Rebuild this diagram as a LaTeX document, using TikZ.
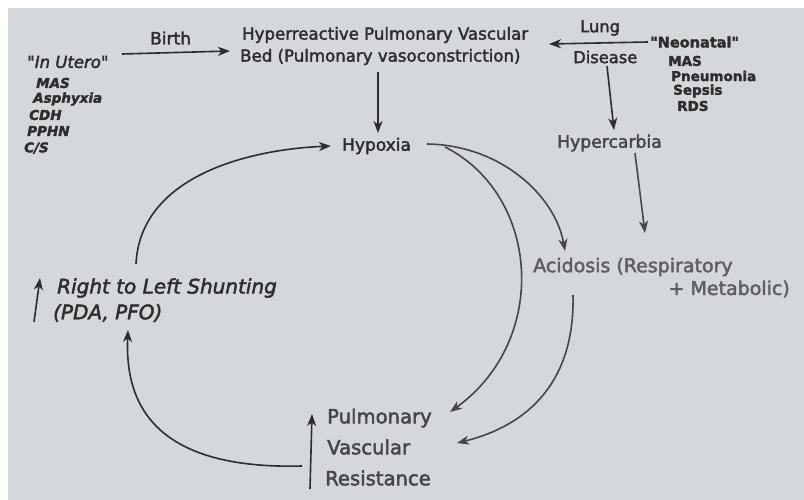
\documentclass[tikz,border=0pt]{standalone}
\usepackage{fontspec}
\setmainfont{DejaVu Sans}[Ligatures=TeXOff, FakeBold=2.2]
\usetikzlibrary{arrows.meta}
\definecolor{bg}{RGB}{212,216,218}
\definecolor{ink}{RGB}{45,45,48}
\definecolor{inkm}{RGB}{70,70,73}
\definecolor{inkl}{RGB}{95,95,98}
\begin{document}
\begin{tikzpicture}[x=1pt,y=-1pt,
  txt/.style={inner sep=0pt, anchor=west, text=ink},
  fs/.style={font=\fontsize{#1}{#1}\selectfont},
  lst/.style={txt, font=\fontsize{13.5}{14}\selectfont\bfseries},
  lsti/.style={txt, font=\fontsize{13.5}{14}\selectfont\bfseries\itshape},
  conn/.style={draw=ink, line width=1.6pt, -{Stealth[length=12pt,width=9pt,inset=3.5pt]}},
  connl/.style={conn, draw=inkm}]
\useasboundingbox (0,0) rectangle (804,500);
\fill[white] (0,0) rectangle (804,500);
\fill[bg] (8,8) rectangle (804,500);

% left group
\node[txt, font=\fontsize{16.5}{18}\selectfont\itshape] (utero) at (27,62) {"In Utero"};
\node[lsti] (l1) at (36,83) {MAS};
\node[lsti] (l2) at (33,99) {Asphyxia};
\node[lsti] (l3) at (29,115) {CDH};
\node[lsti] (l4) at (27,131) {PPHN};
\node[lsti] (l5) at (24,148) {C/S};

\node[txt, fs=17] (birth) at (150,38) {Birth};
\node[txt, fs=16.6] (bed1) at (242,35) {Hyperreactive Pulmonary Vascular};
\node[txt, fs=16.6] (bed2) at (240,57) {Bed (Pulmonary vasoconstriction)};

% right group
\node[txt, fs=16.3] (lung) at (580,28) {Lung};
\node[txt, fs=16.3] (disease) at (573,57) {Disease};
\node[txt, font=\fontsize{14.5}{15}\selectfont\bfseries] (neo) at (650,42) {"Neonatal"};
\node[lst] (r1) at (668,61) {MAS};
\node[lst] (r2) at (671,76) {Pneumonia};
\node[lst] (r3) at (673,91) {Sepsis};
\node[lst] (r4) at (677,106) {RDS};

\node[txt, fs=17] (hypoxia) at (342,146) {Hypoxia};
\node[txt, fs=17.2, text=inkm] (hypercarbia) at (557,143) {Hypercarbia};
\node[txt, fs=19, text=inkl] (acid1) at (533,267) {Acidosis (Respiratory};
\node[txt, fs=19, text=inkl, anchor=east] (acid2) at (790,289) {+ Metabolic)};

\node[txt, font=\fontsize{20}{21}\selectfont\itshape] (rl1) at (57,288) {Right to Left Shunting};
\node[txt, font=\fontsize{20}{21}\selectfont\itshape] (rl2) at (53,313) {(PDA, PFO)};

\node[txt, fs=19.6, text=inkm] (pvr1) at (327,418) {Pulmonary};
\node[txt, fs=19.6, text=inkm] (pvr2) at (327,447) {Vascular};
\node[txt, fs=19.6, text=inkm] (pvr3) at (325,478) {Resistance};

% connector end points
\coordinate (birthA) at (122,54);
\coordinate (birthB) at (230,51);
\coordinate (neoA) at (648,42);
\coordinate (neoB) at (549,44);
\coordinate (bedA) at (378,72);
\coordinate (bedB) at (378,133);
\coordinate (disA) at (607,66);
\coordinate (disB) at (614,130);
\coordinate (hcA) at (635,153);
\coordinate (hcB) at (645,233);
\coordinate (hxA) at (427,144);
\coordinate (acB) at (565,251);
\coordinate (hxC) at (445,147);
\coordinate (pvrB) at (450,412);
\coordinate (acA) at (573,295);
\coordinate (pvrC) at (457,443);
\coordinate (pvrA) at (302,466);
\coordinate (rlB) at (128,330);
\coordinate (rlA) at (136,264);
\coordinate (hxB) at (331,146);
\coordinate (u1a) at (34,322);
\coordinate (u1b) at (40,278);
\coordinate (u2a) at (310,489);
\coordinate (u2b) at (312,414);

\draw[conn] (birthA) -- (birthB);
\draw[conn] (neoA) -- (neoB);
\draw[conn] (bedA) -- (bedB);
\draw[conn] (disA) -- (disB);
\draw[connl] (hcA) -- (hcB);
\draw[connl] (hxA) .. controls (500,145) and (555,195) .. (acB);
\draw[connl] (hxC) .. controls (540,195) and (550,340) .. (pvrB);
\draw[connl] (acA) .. controls (575,380) and (530,425) .. (pvrC);
\draw[conn] (pvrA) .. controls (150,470) and (125,400) .. (rlB);
\draw[conn] (rlA) .. controls (140,180) and (240,150) .. (hxB);
\draw[conn] (u1a) -- (u1b);
\draw[conn] (u2a) -- (u2b);
\end{tikzpicture}
\end{document}
